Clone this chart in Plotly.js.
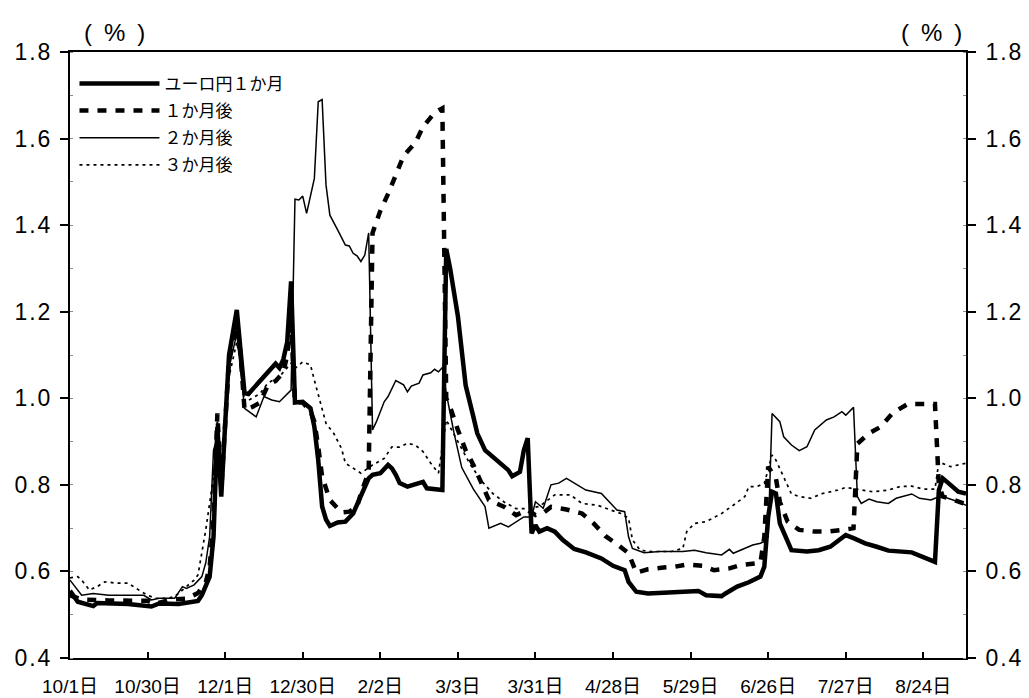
<!DOCTYPE html>
<html><head><meta charset="utf-8">
<script src="https://cdn.plot.ly/plotly-3.0.1.min.js"></script>
<style>html,body{margin:0;padding:0;background:#fff}#chart{width:1029px;height:698px}</style>
</head><body><div id="chart"></div>
<script>
// business-day index (0 = 10/1) and readings
const tickIdx = [0,20,40,60,80,100,120,140,160,180,200,220];
const tickLabels = ["10/1日","10/30日","12/1日","12/30日","2/2日","3/3日","3/31日","4/28日","5/29日","6/26日","7/27日","8/24日"];
const seriesNames = ["ユーロ円１か月","１か月後","２か月後","３か月後"];

const xA = [0,2,6,7,15,21,23,28,33,34,36,37,38,39,40,41,43,44,45,46,48,50,52,53,54,55,56,57,58,59,60,62,63,64,65,66,67,69,71,73,75,77,78,80,82,83,84,85,87,89,91,92,96,97,98,100,101,102,104,105,107,110,113,114,116,117,118,119,120,121,123,125,127,130,133,137,140,143,144,146,149,153,158,162,164,168,169,172,175,178,179,180,181,182,183,185,186,190,193,196,199,200,202,205,208,211,217,220,223,224,225,227,229,231];
const yA = [0.555,0.530,0.520,0.527,0.525,0.519,0.526,0.525,0.532,0.545,0.588,0.68,0.934,0.773,0.94,1.10,1.204,1.11,1.012,1.01,1.03,1.05,1.07,1.08,1.07,1.09,1.13,1.27,0.99,0.99,0.992,0.977,0.934,0.857,0.75,0.72,0.705,0.713,0.715,0.734,0.773,0.815,0.823,0.827,0.846,0.838,0.823,0.804,0.796,0.801,0.807,0.792,0.788,1.345,1.30,1.19,1.10,1.03,0.957,0.919,0.88,0.857,0.834,0.82,0.83,0.88,0.908,0.688,0.707,0.692,0.70,0.692,0.673,0.652,0.644,0.63,0.613,0.603,0.576,0.553,0.549,0.551,0.553,0.555,0.545,0.543,0.549,0.565,0.575,0.588,0.611,0.726,0.784,0.78,0.711,0.665,0.649,0.646,0.649,0.657,0.677,0.684,0.677,0.665,0.657,0.648,0.644,0.634,0.622,0.788,0.815,0.80,0.784,0.78];

const xB = [0,3,10,20,22,26,30,33,35,36,37,38,39,40,41,43,44,45,47,49,51,53,55,56,57,58,60,62,63,64,65,67,70,72,74,75,77,78,80,82,84,86,89,91,94,96,97,98,100,102,104,106,108,112,115,118,120,122,124,128,132,135,138,141,144,146,149,153,156,159,163,166,170,173,176,178,179,180,182,183,185,188,192,195,199,202,203,206,209,212,216,219,223,224,225,228,231];
const yB = [0.545,0.535,0.533,0.532,0.525,0.535,0.537,0.55,0.575,0.61,0.72,0.965,0.79,0.94,1.09,1.17,1.10,0.973,0.98,0.99,1.03,1.04,1.06,1.10,1.17,0.99,0.99,0.97,0.946,0.888,0.819,0.765,0.736,0.738,0.749,0.780,0.83,1.382,1.433,1.472,1.516,1.56,1.59,1.627,1.66,1.67,1.0,0.98,0.927,0.88,0.846,0.804,0.765,0.749,0.73,0.742,0.73,0.735,0.749,0.743,0.734,0.711,0.682,0.663,0.642,0.597,0.605,0.609,0.611,0.616,0.613,0.603,0.607,0.615,0.619,0.62,0.68,0.842,0.815,0.761,0.715,0.696,0.692,0.692,0.696,0.700,0.895,0.919,0.934,0.965,0.987,0.988,0.987,0.80,0.773,0.765,0.755];

const xD = [0,3,6,10,19,21,23,27,29,30,32,34,35,36,37,38,39,40,41,43,44,45,48,50,52,54,57,58,59,60,61,63,64,65,66,67,69,71,72,73,74,75,76,77,78,79,81,82,84,86,87,88,90,91,93,94,95,96,97,99,101,104,107,108,111,113,117,119,120,122,124,126,128,130,132,133,137,139,141,143,144,145,148,152,158,161,164,168,170,171,174,176,178,179,180,181,183,184,186,188,190,192,195,197,199,200,202,203,204,206,208,211,213,217,219,222,223,225,229,231];
const yD = [0.58,0.545,0.549,0.545,0.545,0.534,0.538,0.538,0.565,0.561,0.569,0.588,0.62,0.68,0.88,0.91,0.834,0.95,1.07,1.15,1.07,0.977,0.957,1.004,0.996,0.992,1.019,1.46,1.458,1.467,1.427,1.508,1.685,1.69,1.493,1.423,1.389,1.354,1.352,1.335,1.329,1.316,1.331,1.382,0.927,0.946,0.992,1.004,1.041,1.031,1.015,1.028,1.035,1.054,1.059,1.067,1.061,1.071,1.012,0.92,0.84,0.79,0.75,0.70,0.711,0.703,0.726,0.726,0.761,0.746,0.80,0.804,0.815,0.804,0.794,0.788,0.780,0.761,0.742,0.738,0.680,0.653,0.643,0.646,0.646,0.649,0.643,0.638,0.651,0.642,0.653,0.661,0.665,0.669,0.680,0.965,0.946,0.911,0.892,0.879,0.888,0.927,0.950,0.957,0.969,0.961,0.979,0.773,0.757,0.767,0.761,0.757,0.769,0.779,0.769,0.765,0.769,0.773,0.761,0.753];

const xC = [0,2,3,5,7,9,12,15,17,20,22,25,27,29,32,33,35,37,38,39,40,41,43,44,45,49,51,54,57,58,60,62,63,65,66,68,70,71,73,75,78,81,83,85,87,89,91,93,95,97,100,103,106,109,112,115,118,121,125,129,132,136,139,142,144,145,147,150,155,158,159,161,164,168,171,174,175,177,179,181,182,184,186,188,191,194,198,200,204,207,211,214,217,220,223,224,227,231];
const yC = [0.585,0.588,0.58,0.557,0.565,0.576,0.573,0.573,0.561,0.545,0.538,0.538,0.542,0.557,0.58,0.592,0.696,0.819,0.95,0.80,0.93,1.05,1.13,1.08,0.99,1.011,1.035,1.05,1.081,1.069,1.084,1.077,1.042,0.977,0.942,0.919,0.884,0.850,0.838,0.827,0.846,0.861,0.888,0.887,0.896,0.892,0.877,0.850,0.827,0.95,0.90,0.85,0.81,0.78,0.76,0.745,0.745,0.75,0.777,0.777,0.757,0.753,0.743,0.734,0.723,0.673,0.649,0.646,0.646,0.653,0.692,0.711,0.715,0.734,0.753,0.773,0.796,0.796,0.803,0.869,0.857,0.819,0.779,0.773,0.769,0.780,0.788,0.794,0.788,0.784,0.788,0.796,0.797,0.790,0.790,0.853,0.842,0.85];

const FONT = "Liberation Sans, Arial, Noto Sans CJK JP, sans-serif";
const JFONT = "Noto Sans CJK JP, Liberation Sans, sans-serif";

const traces = [
  {x:xA, y:yA, name:seriesNames[0], mode:"lines", line:{color:"#000", width:4.5}, legendgroup:"a"},
  {x:xB, y:yB, name:seriesNames[1], mode:"lines", line:{color:"#000", width:4.5, dash:"9px,9px"}, legendgroup:"b"},
  {x:xD, y:yD, name:seriesNames[2], mode:"lines", line:{color:"#000", width:1.5}, legendgroup:"c"},
  {x:xC, y:yC, name:seriesNames[3], mode:"lines", line:{color:"#000", width:1.7, dash:"3px,4px"}, legendgroup:"d"},
  // right-hand axis carrier (no marks)
  {x:[], y:[], yaxis:"y2", mode:"lines", showlegend:false, hoverinfo:"skip"}
];

const yTicks = [0.4,0.6,0.8,1.0,1.2,1.4,1.6,1.8];
const yTickText = yTicks.map(v => v.toFixed(1).split("").join("\u200A"));

const yCommon = {
  range:[0.4,1.8], tickvals:yTicks, ticktext:yTickText,
  ticks:"outside", ticklen:8, tickwidth:2, tickcolor:"#000",
  showline:true, linewidth:2, linecolor:"#000", showgrid:false, zeroline:false,
  tickfont:{family:FONT, size:23, color:"#000"}, ticklabelstandoff:5,
  minor:{dtick:0.1, tick0:0.4, ticks:"inside", ticklen:3, tickwidth:1, tickcolor:"#888", showgrid:false}
};

const layout = {
  width:1029, height:698,
  margin:{l:70, r:63, t:52, b:40},
  paper_bgcolor:"#fff", plot_bgcolor:"#fff",
  showlegend:true,
  legend:{x:0.005, y:0.977, xanchor:"left", yanchor:"top", bgcolor:"rgba(0,0,0,0)",
          font:{family:JFONT, size:17, color:"#000"}, itemwidth:80, tracegroupgap:2},
  xaxis:{range:[0,231], tickvals:tickIdx, ticktext:tickLabels, ticks:"inside", ticklen:6, tickwidth:2,
         tickcolor:"#000", showline:true, mirror:true, linewidth:2, linecolor:"#000",
         showgrid:false, zeroline:false, tickfont:{family:FONT, size:19, color:"#000"},
         ticklabelstandoff:10},
  yaxis:Object.assign({side:"left"}, yCommon),
  yaxis2:Object.assign({side:"right", overlaying:"y"}, yCommon),
  annotations:[
    {xref:"paper", yref:"paper", x:0.050, xanchor:"center", y:1.0, yanchor:"bottom", yshift:4, text:"(\u2002%\u2002)", showarrow:false,
     font:{family:FONT, size:24, color:"#000"}},
    {xref:"paper", yref:"paper", x:0.962, xanchor:"center", y:1.0, yanchor:"bottom", yshift:4, text:"(\u2002%\u2002)", showarrow:false,
     font:{family:FONT, size:24, color:"#000"}}
  ]
};

Plotly.newPlot("chart", traces, layout, {staticPlot:true, displayModeBar:false});
</script></body></html>
